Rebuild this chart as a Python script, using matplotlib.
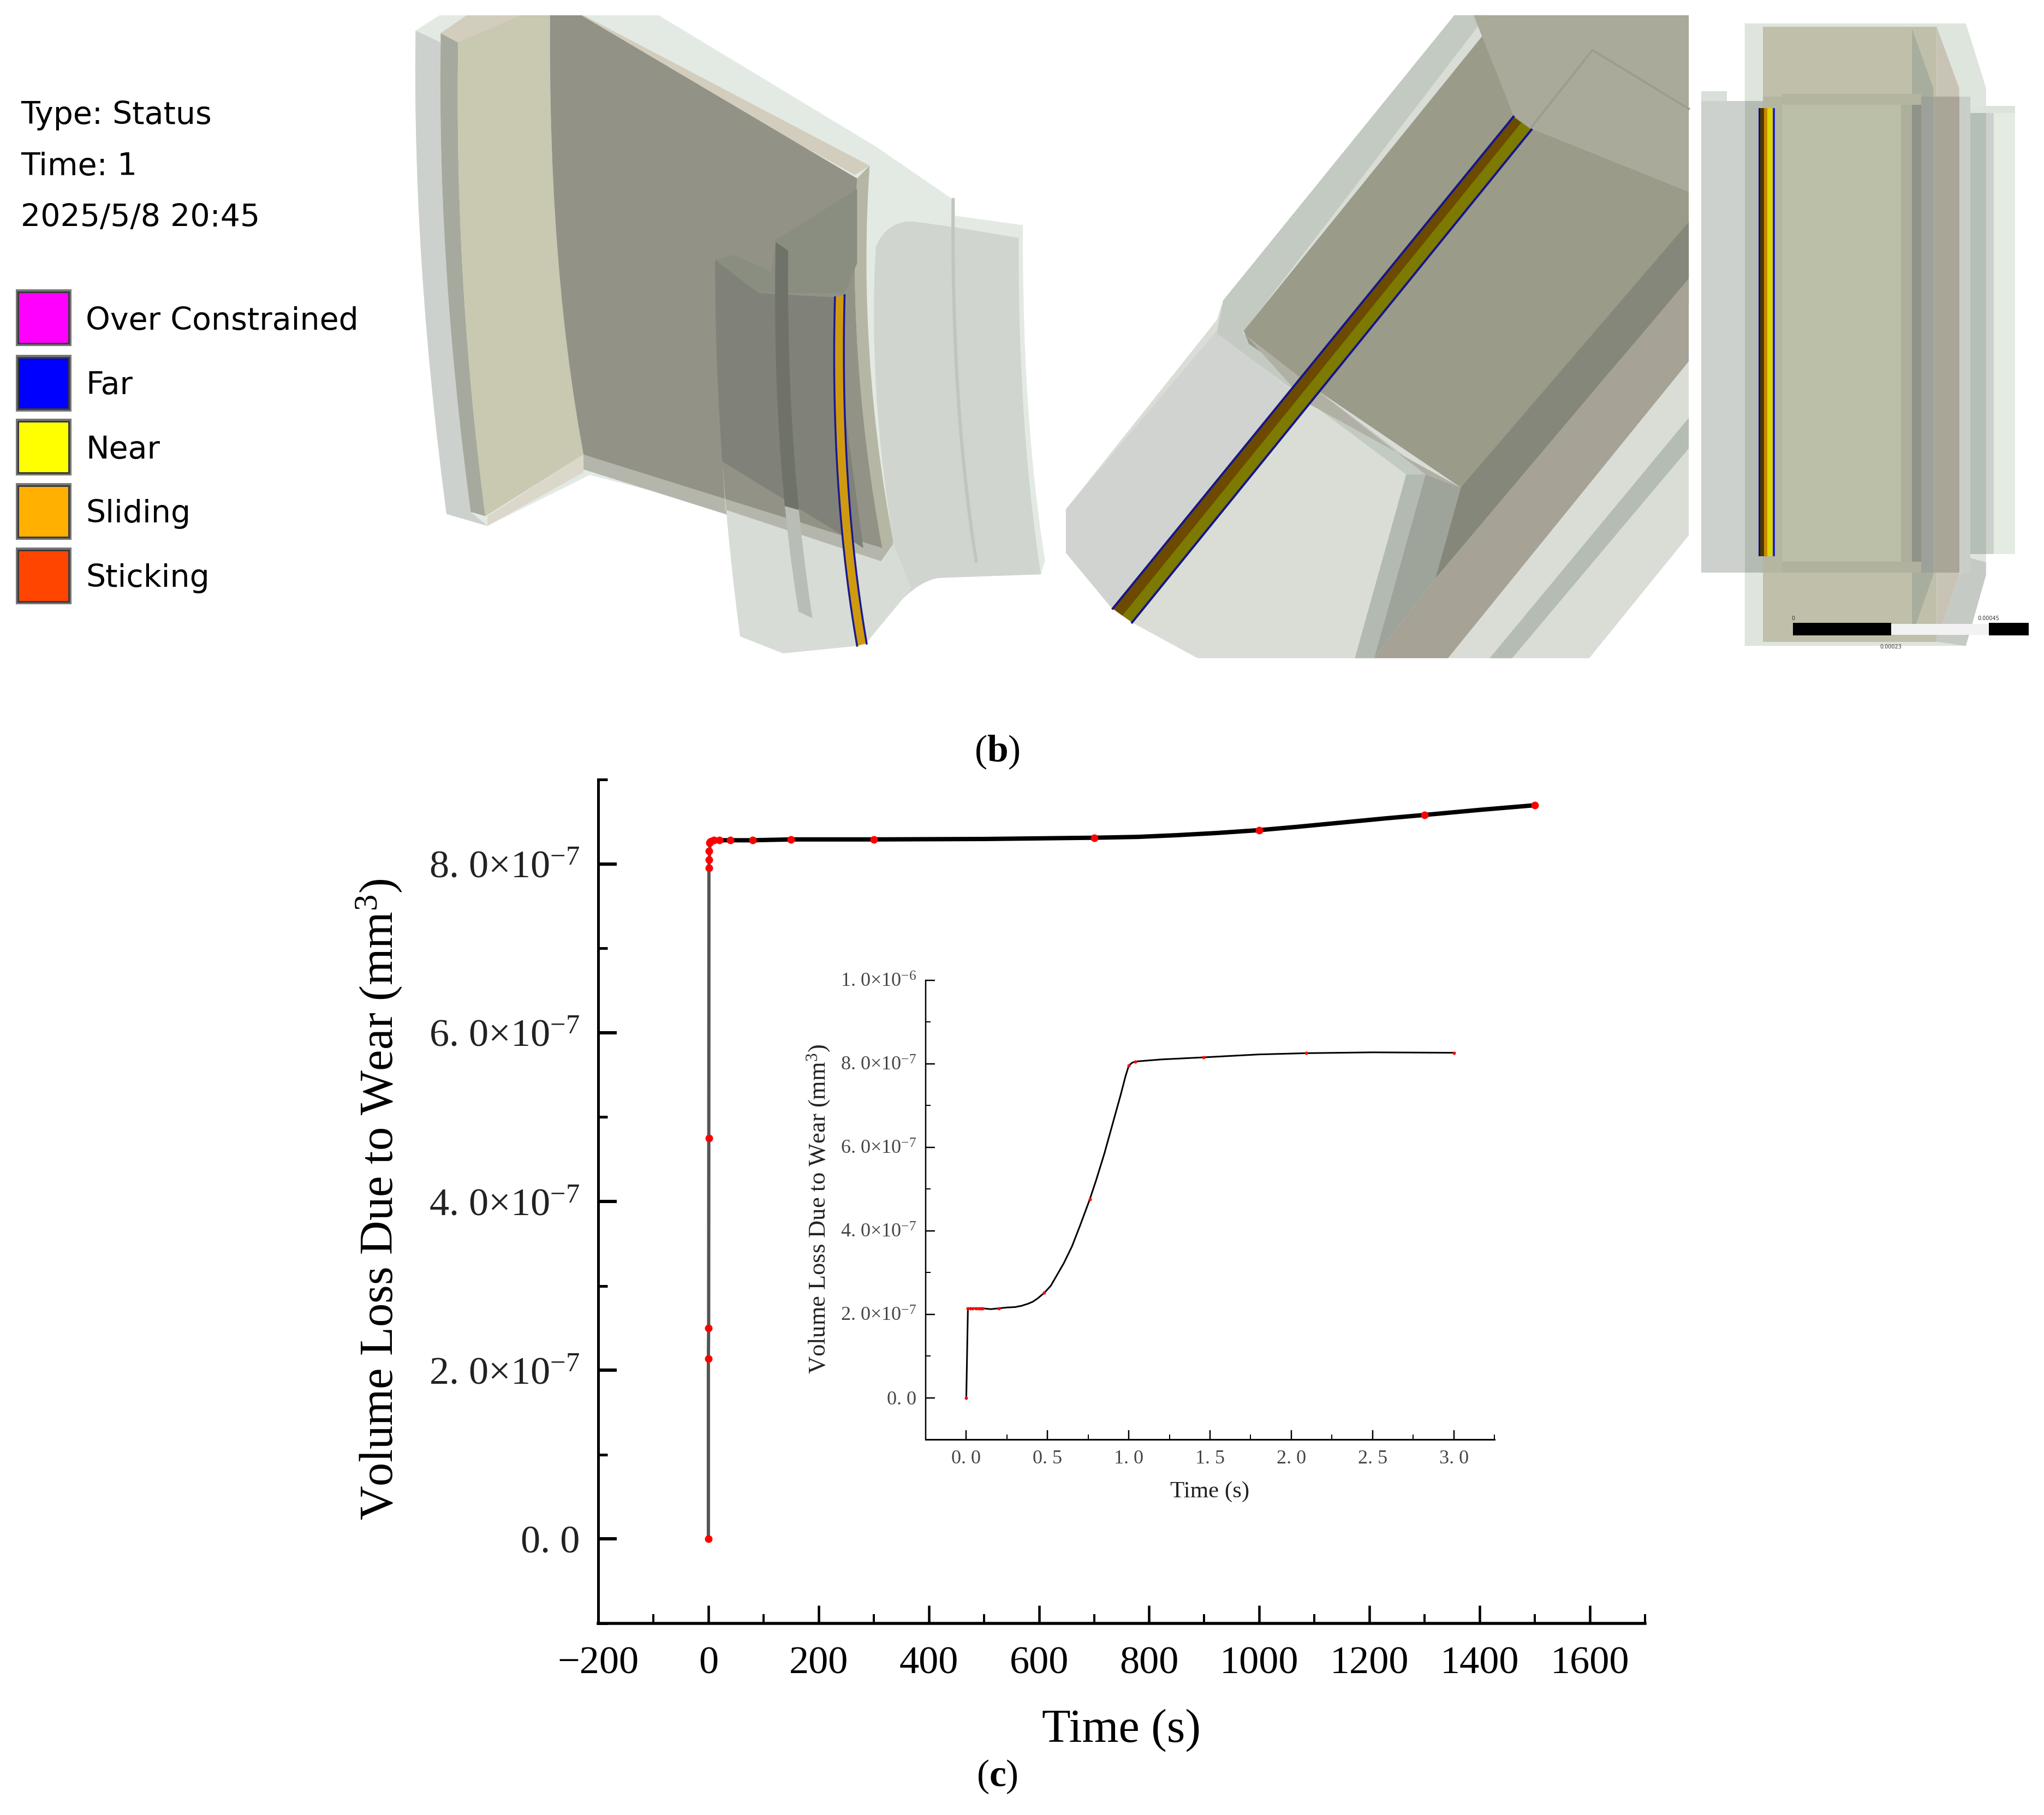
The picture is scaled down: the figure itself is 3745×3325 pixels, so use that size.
import numpy as np
import matplotlib
matplotlib.use("Agg")
import matplotlib.pyplot as plt
from matplotlib.patches import Polygon, Rectangle

plt.rcParams['font.family'] = ['Liberation Serif', 'DejaVu Serif']
plt.rcParams['mathtext.fontset'] = 'custom'
plt.rcParams['mathtext.rm'] = 'Liberation Serif'
plt.rcParams['mathtext.it'] = 'Liberation Serif:italic'
plt.rcParams['mathtext.bf'] = 'Liberation Serif:bold'
plt.rcParams['mathtext.default'] = 'rm'

# ---------------- data ----------------
main_t = [0, 0.01, 0.48, 0.76, 1.0, 1.04, 1.46, 2.09, 3, 5, 10, 20, 40, 80, 150, 300, 700, 1000, 1300, 1500]
main_v = [0, 2.14, 2.50, 4.75, 7.95, 8.05, 8.15, 8.25, 8.26, 8.27, 8.28, 8.28, 8.28, 8.28, 8.29, 8.29, 8.31, 8.40, 8.58, 8.695]
main_curve_t = [3, 20, 80, 150, 300, 500, 700, 780, 850, 920, 1000, 1070, 1150, 1230, 1300, 1400, 1500]
main_curve_v = [8.26, 8.28, 8.28, 8.29, 8.29, 8.295, 8.31, 8.32, 8.34, 8.365, 8.40, 8.44, 8.49, 8.54, 8.58, 8.64, 8.695]
main_rise_t = [0, 0.01, 0.48, 0.76, 1.0, 3]
main_rise_v = [0, 2.14, 2.50, 4.75, 7.95, 8.26]

inset_t = [0, 0.01, 0.025, 0.04, 0.06, 0.075, 0.09, 0.1, 0.2, 0.48, 0.76, 1.0, 1.04, 1.46, 2.09, 3.0]
inset_v = [0, 2.14, 2.14, 2.14, 2.14, 2.14, 2.14, 2.14, 2.14, 2.51, 4.75, 7.95, 8.05, 8.15, 8.25, 8.26]
curve_t = [0, 0.01, 0.1, 0.15, 0.2, 0.25, 0.3, 0.34, 0.38, 0.41, 0.44, 0.48, 0.52, 0.56, 0.6, 0.65, 0.7, 0.76,
           0.8, 0.85, 0.9, 0.95, 0.98, 1.0, 1.02, 1.04, 1.2, 1.46, 1.8, 2.09, 2.5, 3.0]
curve_v = [0, 2.14, 2.14, 2.12, 2.14, 2.16, 2.17, 2.20, 2.25, 2.30, 2.38, 2.51, 2.68, 2.95, 3.22, 3.62, 4.12, 4.75,
           5.22, 5.85, 6.55, 7.25, 7.70, 7.95, 8.02, 8.05, 8.10, 8.15, 8.22, 8.25, 8.27, 8.26]

main_xticks = [-200, 0, 200, 400, 600, 800, 1000, 1200, 1400, 1600]
main_xlabels = ['\u2212200', '0', '200', '400', '600', '800', '1000', '1200', '1400', '1600']
main_yticks = [0, 2e-7, 4e-7, 6e-7, 8e-7]
main_ylabels = ['0. 0', '2. 0$\\times$10$^{-7}$', '4. 0$\\times$10$^{-7}$', '6. 0$\\times$10$^{-7}$', '8. 0$\\times$10$^{-7}$']
inset_xticks = [0, 0.5, 1.0, 1.5, 2.0, 2.5, 3.0]
inset_xlabels = ['0. 0', '0. 5', '1. 0', '1. 5', '2. 0', '2. 5', '3. 0']
inset_yticks = [0, 2e-7, 4e-7, 6e-7, 8e-7, 1e-6]
inset_ylabels = ['0. 0', '2. 0$\\times$10$^{-7}$', '4. 0$\\times$10$^{-7}$', '6. 0$\\times$10$^{-7}$', '8. 0$\\times$10$^{-7}$', '1. 0$\\times$10$^{-6}$']

legend_names = ['Over Constrained', 'Far', 'Near', 'Sliding', 'Sticking']
legend_colors = ['#ff00ff', '#0000ff', '#ffff00', '#ffb000', '#ff4500']
header_lines = ['Type: Status', 'Time: 1', '2025/5/8 20:45']

W, H = 3745, 3325
PX = 0.72
fig = plt.figure(figsize=(W / 100, H / 100), dpi=100, facecolor='white')

# ---------------- illustration layer, in pixels ----------------
bg = fig.add_axes([0, 0, 1, 1])
bg.set_xlim(0, W)
bg.set_ylim(H, 0)
bg.axis('off')


def zone(x0, y0, sx, sy):
    return lambda pts: [(x0 + a / sx, y0 + b / sy) for a, b in pts]


def fill(conv, pts, color):
    bg.add_patch(Polygon(conv(pts), closed=True, facecolor=color, edgecolor='none'))


def arc(p0, c, p1, n=14):
    """Curved edge of the illustration, as a list of vertices."""
    s = np.linspace(0, 1, n)
    return [((1 - u) ** 2 * p0[0] + 2 * u * (1 - u) * c[0] + u ** 2 * p1[0],
             (1 - u) ** 2 * p0[1] + 2 * u * (1 - u) * c[1] + u ** 2 * p1[1]) for u in s]


# left model
L = zone(740, 0, 1.3067, 1.285)
e_outer = arc((28, 72), (20, 600), (102, 1210))
e_strip = arc((88, 100), (80, 620), (160, 1205))
e_face = arc((130, 100), (120, 650), (195, 1215))
e_dark = arc((350, 36), (345, 620), (430, 1070))
e_beige = arc((1115, 390), (1085, 820), (1172, 1278))
e_beige2 = arc((1085, 420), (1060, 830), (1145, 1290))
e_right = arc((1472, 560), (1470, 1000), (1525, 1352))
e_right2 = arc((1482, 530), (1480, 980), (1535, 1320))
e_low = arc((1290, 1360), (1215, 1360), (1110, 1510))
e_hump = arc((1130, 580), (1160, 515), (1225, 522))
e_col = arc((745, 612), (745, 1050), (805, 1498))
e_tabl = arc((890, 570), (880, 1050), (945, 1440))
e_tabr = arc((920, 590), (915, 1050), (978, 1455))

fill(L, e_outer + [(102, 1210), (200, 1238), (445, 1118), (770, 1200)] + e_col[7:] + [(908, 1538), (1090, 1520), (1110, 1510)]
     + e_low[::-1] + [(1525, 1352)] + e_right2[::-1] + [(1320, 508), (1315, 470), (1130, 345), (610, 36), (85, 36)], '#e3eae3')
fill(L, e_outer + [(200, 1238), (160, 1205)] + e_strip[::-1], '#cdd1ce')
fill(L, [(88, 78)] + e_face + e_strip[::-1], '#a6a99d')
fill(L, [(88, 78), (150, 36), (430, 36), (1115, 390), (1080, 412), (425, 55), (350, 50), (130, 100)], '#d3cdbe')
fill(L, [(280, 36)] + e_dark + e_face[::-1], '#c9c8b0')
fill(L, [(200, 1215), (430, 1070), (430, 1112), (200, 1238)], '#dbd8cb')
fill(L, [(430, 1105), (1140, 1325), (1172, 1280), (430, 1070)], '#b4b6ac')
fill(L, e_beige + e_beige2[::-1], '#b6b6a4')
fill(L, [(350, 36), (425, 36), (1085, 420)] + e_beige2 + e_dark[::-1], '#929386')
fill(L, e_hump + [(1320, 535)] + e_right + [(1290, 1360)] + e_low[1:] + arc((1172, 1280), (1110, 900), (1130, 580))[:-1], '#d0d5d0')
fill(L, [(770, 1200), (1145, 1322), (1172, 1280), (1215, 1385), (1110, 1510), (1090, 1520), (908, 1538)] + e_col[::-1][:7], '#d7dcd6')
fill(L, e_col[:8] + [(1100, 1290), (1060, 1000), (1035, 700), (850, 690)], '#80827a')
fill(L, [(890, 565), (1085, 445), (1085, 620), (1055, 690), (850, 690), (745, 612), (790, 600), (880, 640)], '#8a8e80')
fill(L, e_tabl[:10] + e_tabr[:10][::-1], '#6f7268')
fill(L, e_tabl[9:] + e_tabr[9:][::-1], '#b8bdb6')
c_line = L(arc((1315, 470), (1310, 950), (1370, 1320)))
bg.plot(*zip(*c_line), color='#bfc6bf', lw=6 * PX)
e_sl = arc((1032, 700), (1020, 1150), (1085, 1520), 24)
e_sr = arc((1055, 695), (1044, 1150), (1108, 1515), 24)
fill(L, e_sl + e_sr[::-1], '#d09a10')
for edge in (e_sl, e_sr):
    bg.plot(*zip(*L(edge)), color='#1a1a90', lw=3.5 * PX)

# middle model
M = zone(1900, 0, 0.85, 1.254)
fill(M, [(650, 35), (1015, 35), (1015, 1230), (860, 1512), (250, 1512), (148, 1430), (118, 1400), (45, 1270), (45, 1170), (280, 735), (290, 690)], '#d9ddd6')
fill(M, [(45, 1170), (280, 760), (420, 925), (118, 1400), (45, 1270)], '#d0d3cf')
fill(M, [(650, 35), (700, 35), (320, 765), (610, 1090), (575, 1090), (280, 765), (290, 690)], '#c2cac2')
fill(M, [(322, 760), (695, 80), (742, 265), (770, 295), (1015, 440), (1015, 700), (660, 1120), (330, 790)], '#9a9b89')
fill(M, [(680, 35), (1015, 35), (1015, 440), (770, 295), (742, 265)], '#a9aa99')
fill(M, [(325, 770), (420, 925), (660, 1120), (605, 1090)], '#b0b1a4')
fill(M, [(575, 1090), (605, 1090), (525, 1512), (495, 1512)], '#b3bab2')
fill(M, [(605, 1090), (660, 1120), (620, 1330), (525, 1512)], '#9fa49b')
fill(M, [(660, 1120), (1015, 510), (1015, 640), (620, 1330)], '#85877b')
fill(M, [(620, 1330), (1015, 640), (1015, 830), (640, 1512), (585, 1512), (525, 1512)], '#a6a295')
fill(M, [(1015, 960), (705, 1512), (740, 1512), (1015, 1030)], '#b5bcb3')
bg.plot(*zip(*M([(770, 292), (865, 115), (1015, 250)])), color='#9b9d8e', lw=4 * PX)
fill(M, [(742, 268), (770, 298), (148, 1430), (118, 1398)], '#7c7a00')
fill(M, [(742, 268), (754, 282), (133, 1414), (118, 1398)], '#6c4a00')
for a, b in [((742, 268), (118, 1398)), ((770, 298), (148, 1430))]:
    bg.plot(*zip(*M([a, b])), color='#16168a', lw=4 * PX)

# right model
R = zone(3100, 20, 2.431, 1.3067)


def box(x0, x1, y0, y1, color):
    fill(R, [(x0, y0), (x1, y0), (x1, y1), (x0, y1)], color)


fill(R, [(235, 30), (1220, 30), (1310, 185), (1310, 1350), (1220, 1520), (235, 1520)], '#dde5dd')
box(317, 1090, 38, 1510, '#c0c0aa')
fill(R, [(1090, 38), (1190, 185), (1190, 1350), (1090, 1510)], '#c9c3b5')
fill(R, [(980, 42), (1075, 185), (1075, 1350), (980, 1495)], '#a7ae9e')
fill(R, [(1240, 1310), (1310, 1320), (1310, 1350), (1220, 1520), (1090, 1510), (1190, 1350)], '#c6cac5')
bands = [(42, 155, '#ccd1cd'), (155, 235, '#cdd1cd'), (235, 317, '#b4bbb3'), (317, 400, '#b5b6a0'), (400, 930, '#bbbfa7'),
         (930, 980, '#adaf9c'), (980, 1020, '#8f9488'), (1020, 1075, '#9ca29a'), (1075, 1090, '#a7a89a'),
         (1090, 1190, '#aba597'), (1190, 1240, '#c9cec9'), (1240, 1310, '#b4c0b6'), (1310, 1345, '#cdd1cd'), (1345, 1440, '#e4ebe1')]
for a, b, c in bands:
    top = 215 if a < 317 else (205 if a < 1240 else 235)
    bot = 1345 if a < 1240 else 1300
    box(a, b, top, bot, c)
box(42, 155, 192, 215, '#d9e0d9')
box(1240, 1440, 228, 245, '#dbe3db')
box(400, 1020, 198, 225, '#b3b59f')
box(400, 1020, 1318, 1345, '#b0b29d')
for a, b, c in [(297, 305, '#10107a'), (305, 320, '#4d3800'), (320, 335, '#c88800'), (335, 360, '#d8d800'), (360, 370, '#2020e0')]:
    box(a, b, 233, 1305, c)
box(450, 888, 1465, 1495, 'black')
box(888, 1322, 1467, 1493, '#f2f2f2')
box(1322, 1500, 1465, 1495, 'black')
for label, xz, yz in [('0', 450, 1455), ('0.00045', 1322, 1455), ('0.00023', 885, 1522)]:
    px, py = R([(xz, yz)])[0]
    bg.text(px, py, label, fontsize=7, family='DejaVu Sans', color='#333333', ha='center', va='center')

# status legend
for txt, y in zip(header_lines, [227, 321, 415]):
    bg.text(38, y, txt, fontsize=41, family='DejaVu Sans', color='black', ha='left', va='baseline')
for name, col, top, base in zip(legend_names, legend_colors, [530, 650, 767, 885, 1003], [604, 722, 840, 957, 1075]):
    bg.add_patch(Rectangle((29, top), 102, 104, facecolor='#777777', edgecolor='none'))
    bg.add_patch(Rectangle((33, top + 5), 93, 94, facecolor=col, edgecolor='#3a3a3a', lw=3 * PX))
    bg.text(157, base, name, fontsize=41, family='DejaVu Sans', color='black', ha='left', va='baseline')

# captions
for cap, y in [('b', 1378), ('c', 3255)]:
    bg.text(1827, y, f'($\\mathbf{{{cap}}}$)', fontsize=50, ha='center', va='center', color='black')

# ---------------- main chart ----------------
ax = fig.add_axes([1096 / W, 1 - 2974 / H, (3014 - 1096) / W, (2974 - 1428) / H])
ax.patch.set_alpha(0)
ax.set_xlim(-200, 1700)
ax.set_ylim(-1e-7, 9e-7)
ax.plot(np.array(main_rise_t), np.array(main_rise_v) * 1e-7, color='#555555', lw=6 * PX, solid_capstyle='butt', zorder=2)
ax.plot(main_curve_t, np.array(main_curve_v) * 1e-7, color='black', lw=8 * PX, zorder=3)
ax.plot(main_t, np.array(main_v) * 1e-7, ls='none', marker='o', ms=14 * PX, mfc='#ff0000', mec='none', zorder=4)
for s in ('top', 'right'):
    ax.spines[s].set_visible(False)
ax.spines['left'].set_linewidth(5 * PX)
ax.spines['bottom'].set_linewidth(5.5 * PX)
ax.set_xticks(main_xticks, main_xlabels)
ax.set_yticks(main_yticks, main_ylabels)
ax.set_xticks(np.arange(-100, 1701, 200), minor=True)
ax.set_yticks(np.arange(-1, 10, 2) * 1e-7, minor=True)
ax.tick_params(axis='x', which='major', direction='in', length=33 * PX, width=4.5 * PX, labelsize=52, pad=30, colors='black')
ax.tick_params(axis='y', which='major', direction='in', length=34 * PX, width=6 * PX, labelsize=52, pad=24, labelcolor='#222222')
ax.tick_params(axis='x', which='minor', direction='in', length=17 * PX, width=4 * PX)
ax.tick_params(axis='y', which='minor', direction='in', length=17 * PX, width=5 * PX)
fig.text(2054 / W, 1 - 3190 / H, 'Time (s)', fontsize=62, ha='center', va='baseline', color='black')
fig.text(695 / W, 1 - 2197 / H, 'Volume Loss Due to Wear (mm$^{3}$)', fontsize=62.5, rotation=90, ha='center', va='center', color='black')

# ---------------- inset ----------------
ins = fig.add_axes([1696 / W, 1 - 2637 / H, (2738 - 1696) / W, (2637 - 1795.5) / H])
ins.patch.set_alpha(0)
ins.set_xlim(-0.25, 3.25)
ins.set_ylim(-1e-7, 1e-6)
ins.plot(curve_t, np.array(curve_v) * 1e-7, color='black', lw=3 * PX, zorder=2)
ins.plot(inset_t, np.array(inset_v) * 1e-7, ls='none', marker='o', ms=6 * PX, mfc='#ff0000', mec='none', zorder=3)
for s in ('top', 'right'):
    ins.spines[s].set_visible(False)
ins.spines['left'].set_linewidth(2.5 * PX)
ins.spines['bottom'].set_linewidth(3 * PX)
ins.set_xticks(inset_xticks, inset_xlabels)
ins.set_yticks(inset_yticks, inset_ylabels)
ins.set_xticks(np.arange(0.25, 3.3, 0.5), minor=True)
ins.set_yticks(np.arange(1, 10, 2) * 1e-7, minor=True)
ins.tick_params(which='major', direction='in', length=17 * PX, width=2.5 * PX, labelsize=26, labelcolor='#444444')
ins.tick_params(which='minor', direction='in', length=9 * PX, width=2 * PX)
ins.tick_params(axis='x', which='major', pad=14)
ins.tick_params(axis='y', which='major', pad=12)
fig.text(2217 / W, 1 - 2743 / H, 'Time (s)', fontsize=31, ha='center', va='baseline', color='#222222')
fig.text(1500 / W, 1 - 2215 / H, 'Volume Loss Due to Wear (mm$^{3}$)', fontsize=32, rotation=90, ha='center', va='center', color='#222222')

fig.savefig('out.png', dpi=100)
